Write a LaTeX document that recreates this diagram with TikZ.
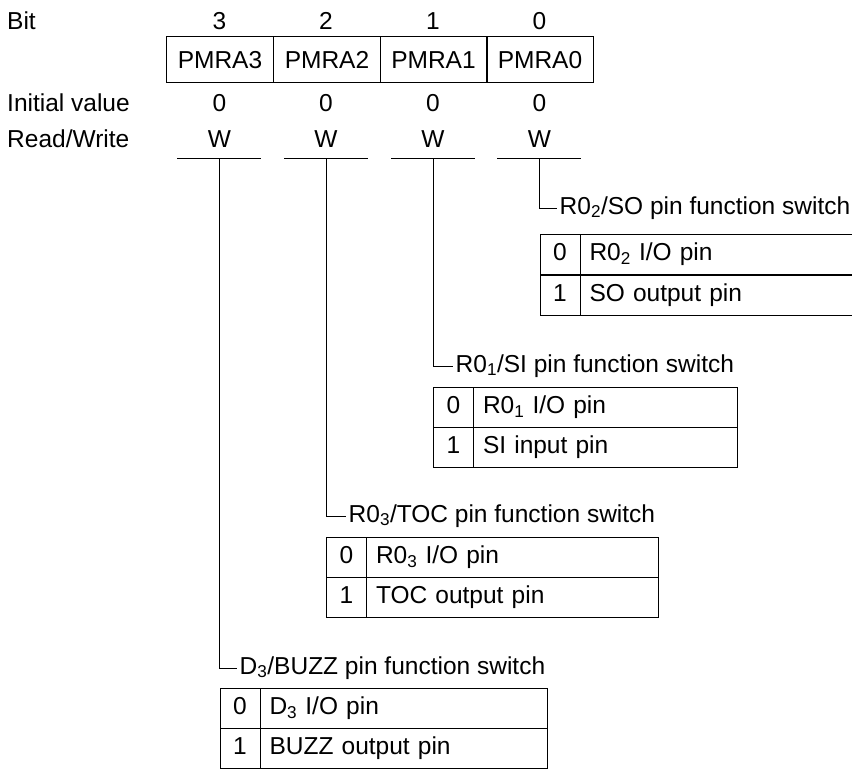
\documentclass[tikz,border=0pt]{standalone}
\usepackage{fontspec}
\setmainfont{Liberation Sans}
\begin{document}
\begin{tikzpicture}[x=1pt,y=-1pt,
  every node/.style={font=\fontsize{24.5}{29}\selectfont},
  lbl/.style={anchor=west, inner sep=0pt},
  ctr/.style={inner sep=0pt},
  regcell/.style={draw, line width=1pt, anchor=north west, minimum width=107pt, minimum height=46pt, inner sep=0pt, text height=17pt, text depth=0pt},
  valcell/.style={draw, line width=1pt, anchor=north west, minimum width=40pt, minimum height=40pt, inner sep=0pt, text height=17pt, text depth=5pt},
  labcell/.style={draw, line width=1pt, anchor=north west, minimum height=40pt, text width=#1, inner xsep=9.5pt, inner ysep=0pt, align=left, text height=17pt, text depth=5pt},
  ttl/.style={anchor=west, inner xsep=2.5pt, inner ysep=0pt, text height=17pt, text depth=5pt},
  conn/.style={line width=1pt},
  uline/.style={line width=1pt}
]
\useasboundingbox (0,0) rectangle (852,774);

% left labels
\node[lbl] (bitlbl) at (7,21) {Bit};
\node[lbl] (initlbl) at (7,103) {Initial value};
\node[lbl] (rwlbl) at (7,139) {Read/Write};

% register
\node[regcell] (r3) at (166,36) {PMRA3};
\node[regcell] (r2) at (273,36) {PMRA2};
\node[regcell] (r1) at (379.5,36) {PMRA1};
\node[regcell] (r0) at (486,36) {PMRA0};

% bit numbers
\node[ctr] (b3) at (219.5,21) {3};
\node[ctr] (b2) at (326,21) {2};
\node[ctr] (b1) at (433,21) {1};
\node[ctr] (b0) at (539.5,21) {0};

% initial values
\node[ctr] (i3) at (219.5,103) {0};
\node[ctr] (i2) at (326,103) {0};
\node[ctr] (i1) at (433,103) {0};
\node[ctr] (i0) at (539.5,103) {0};

% read/write
\node[ctr] (w3) at (219.5,139) {W};
\node[ctr] (w2) at (326,139) {W};
\node[ctr] (w1) at (433,139) {W};
\node[ctr] (w0) at (539.5,139) {W};

% underlines
\coordinate (u3a) at (177,158); \coordinate (u3b) at (261,158); \coordinate (u3) at (219.5,158);
\coordinate (u2a) at (284,158); \coordinate (u2b) at (368,158); \coordinate (u2) at (326,158);
\coordinate (u1a) at (391,158); \coordinate (u1b) at (475,158); \coordinate (u1) at (433,158);
\coordinate (u0a) at (497,158); \coordinate (u0b) at (581,158); \coordinate (u0) at (539.5,158);
\draw[uline] (u3a) -- (u3b);
\draw[uline] (u2a) -- (u2b);
\draw[uline] (u1a) -- (u1b);
\draw[uline] (u0a) -- (u0b);

% titles
\node[ttl] (t0) at (557,208) {R0\textsubscript{2}/SO pin function switch};
\node[ttl] (t1) at (453,366) {R0\textsubscript{1}/SI pin function switch};
\node[ttl] (t2) at (346,516) {R0\textsubscript{3}/TOC pin function switch};
\node[ttl] (t3) at (237,668) {D\textsubscript{3}/BUZZ pin function switch};

\draw[conn] (u0) |- (t0.west);
\draw[conn] (u1) |- (t1.west);
\draw[conn] (u2) |- (t2.west);
\draw[conn] (u3) |- (t3.west);

% table bit 0
\node[valcell] (v00) at (539.5,234) {0};
\node[labcell=256pt] (l00) at (579.5,234) {R0\textsubscript{2} I/O pin};
\node[valcell] (v01) at (539.5,275) {1};
\node[labcell=256pt] (l01) at (579.5,275) {SO output pin};

% table bit 1
\node[valcell] (v10) at (433,387) {0};
\node[labcell=245pt] (l10) at (473,387) {R0\textsubscript{1} I/O pin};
\node[valcell] (v11) at (433,427) {1};
\node[labcell=245pt] (l11) at (473,427) {SI input pin};

% table bit 2
\node[valcell] (v20) at (326,537) {0};
\node[labcell=273pt] (l20) at (366,537) {R0\textsubscript{3} I/O pin};
\node[valcell] (v21) at (326,577) {1};
\node[labcell=273pt] (l21) at (366,577) {TOC output pin};

% table bit 3
\node[valcell] (v30) at (219.5,688) {0};
\node[labcell=268pt] (l30) at (259.5,688) {D\textsubscript{3} I/O pin};
\node[valcell] (v31) at (219.5,728) {1};
\node[labcell=268pt] (l31) at (259.5,728) {BUZZ output pin};
\end{tikzpicture}
\end{document}
